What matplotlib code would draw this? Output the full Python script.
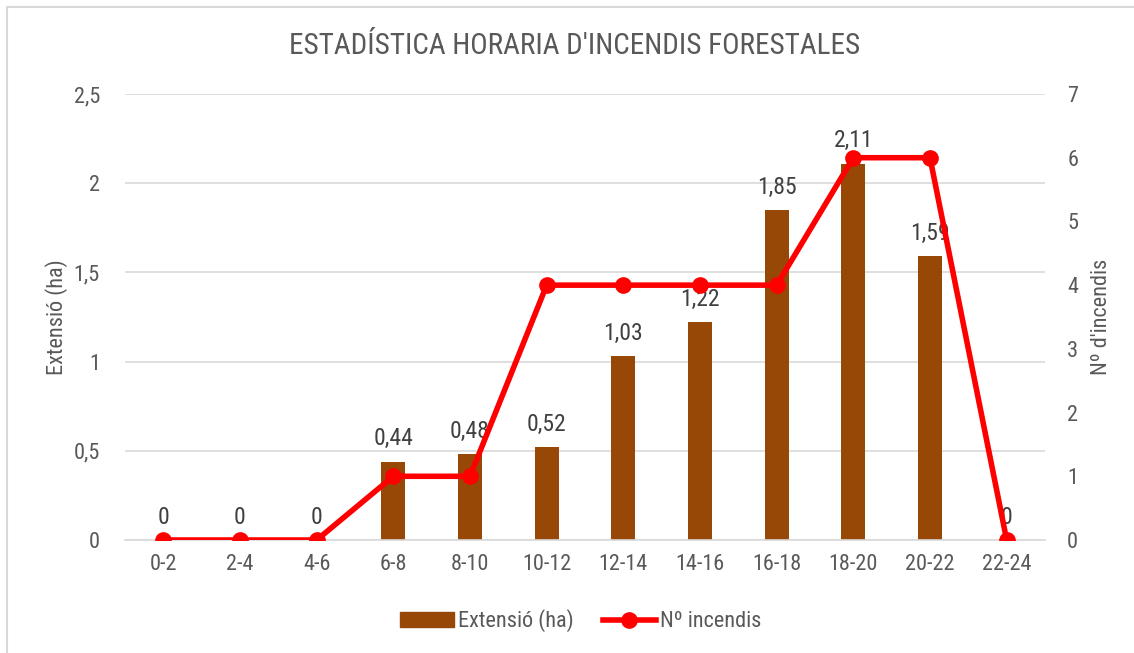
import numpy as np
import matplotlib.pyplot as plt
from matplotlib.patches import Rectangle
from matplotlib.lines import Line2D

# Hourly forest fire data
franjas = ["0-2", "2-4", "4-6", "6-8", "8-10", "10-12", "12-14",
           "14-16", "16-18", "18-20", "20-22", "22-24"]
extension_ha = [0, 0, 0, 0.44, 0.48, 0.52, 1.03, 1.22, 1.85, 2.11, 1.59, 0]
num_incendis = [0, 0, 0, 1, 1, 4, 4, 4, 4, 6, 6, 0]

plt.rcParams["font.family"] = ["Roboto Condensed", "Liberation Sans", "DejaVu Sans"]
gris = "#595959"
marron = "#974706"
rojo = "#FF0000"

fig = plt.figure(figsize=(11.34, 6.53), dpi=100)
ax = fig.add_axes([125 / 1134, 1 - 540 / 653, 920 / 1134, 446 / 653])
ax2 = ax.twinx()

x = np.arange(len(franjas))
ax.bar(x, extension_ha, width=0.31, color=marron, zorder=2)
for xi, v in zip(x, extension_ha):
    ax.annotate(f"{v:g}".replace(".", ","), (xi, v), xytext=(0, 8),
                textcoords="offset points", ha="center", va="bottom",
                fontsize=17, color="#404040", zorder=5)

ax2.plot(x, num_incendis, color=rojo, lw=4, marker="o", ms=11, zorder=3)

ax.set_xlim(-0.5, len(franjas) - 0.5)
ax.set_ylim(0, 2.5)
ax2.set_ylim(0, 7)
ax.set_yticks(np.arange(0, 2.51, 0.5))
ax.set_yticklabels(["0", "0,5", "1", "1,5", "2", "2,5"])
ax2.set_yticks(range(8))
ax.set_xticks(x)
ax.set_xticklabels(franjas)

ax.grid(axis="y", color="#D9D9D9", lw=1.2, zorder=0)
ax.set_axisbelow(True)
for a in (ax, ax2):
    for s in a.spines.values():
        s.set_visible(False)
    a.tick_params(length=0, labelsize=16, colors=gris)
ax.tick_params(axis="y", pad=18)
ax.tick_params(axis="x", pad=10)
ax2.tick_params(axis="y", pad=16)
ax.spines["bottom"].set_visible(True)
ax.spines["bottom"].set_color("#D9D9D9")
ax.spines["bottom"].set_linewidth(1.2)

ax.set_ylabel("Extensió (ha)", fontsize=16, color=gris, labelpad=4)
ax2.set_ylabel("Nº d'incendis", fontsize=16, color=gris, labelpad=9)
# keep the line above the bars
ax2.set_zorder(ax.get_zorder() + 1)
ax2.patch.set_visible(False)

fig.text(575 / 1134, 1 - 46 / 653, "ESTADÍSTICA HORARIA D'INCENDIS FORESTALES",
         ha="center", va="center", fontsize=21, color=gris)

handles = [Rectangle((0, 0), 1, 1, color=marron),
           Line2D([], [], color=rojo, lw=4, marker="o", ms=11)]
fig.legend(handles, ["Extensió (ha)", "Nº incendis"], loc="center",
           bbox_to_anchor=(581 / 1134, 1 - 621 / 653), ncol=2, frameon=False,
           fontsize=16, labelcolor=gris, handlelength=2.4, handleheight=0.6,
           columnspacing=1.3, handletextpad=0.2)

# chart frame
fig.patches.append(Rectangle((7 / 1134, -0.1), 1.2, 1 - 7 / 653 + 0.1,
                             transform=fig.transFigure, fill=False,
                             edgecolor="#D9D9D9", lw=1.5))

fig.savefig("out.png", dpi=100)
